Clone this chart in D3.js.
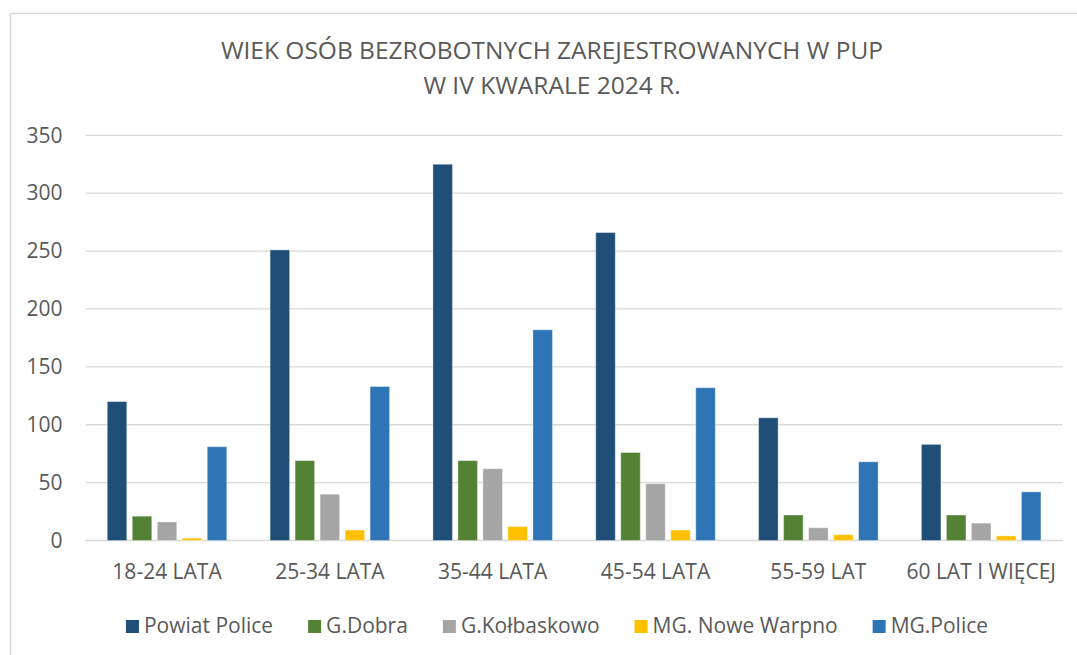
<!DOCTYPE html>
<html>
<head>
<meta charset="utf-8">
<script src="https://cdn.jsdelivr.net/npm/d3@7"></script>
<style>
  body { margin: 0; background: #fff; }
  text { font-family: "Open Sans", sans-serif; fill: #595959; }
</style>
</head>
<body>
<script>
// categories and series
const categories = ["18-24 LATA", "25-34 LATA", "35-44 LATA", "45-54 LATA", "55-59 LAT", "60 LAT I WIĘCEJ"];
const seriesNames = ["Powiat Police", "G.Dobra", "G.Kołbaskowo", "MG. Nowe Warpno", "MG.Police"];
const powiatPolice = [120, 251, 325, 266, 106, 83];
const gDobra = [21, 69, 69, 76, 22, 22];
const gKolbaskowo = [16, 40, 62, 49, 11, 15];
const mgNoweWarpno = [2, 9, 12, 9, 5, 4];
const mgPolice = [81, 133, 182, 132, 68, 42];
const yTicks = [0, 50, 100, 150, 200, 250, 300, 350];
const colors = ["#1f4e79", "#548235", "#a5a5a5", "#ffc000", "#2e75b6"];

const seriesValues = [powiatPolice, gDobra, gKolbaskowo, mgNoweWarpno, mgPolice];

const width = 1077, height = 655;
const plot = {left: 85.6, right: 1062.6, top: 135.3, bottom: 540.5};

const svg = d3.select("body").append("svg")
    .attr("width", width)
    .attr("height", height);

// chart frame (right and bottom edges are cut off in the picture)
svg.append("rect")
    .attr("x", 10.5).attr("y", 13.5)
    .attr("width", width + 20).attr("height", height + 20)
    .attr("fill", "#fff")
    .attr("stroke", "#d9d9d9")
    .attr("stroke-width", 1.5);

// title
const title = svg.append("text")
    .attr("text-anchor", "middle")
    .attr("font-size", 24.5);
title.append("tspan").attr("x", 552).attr("y", 59).text("WIEK OSÓB BEZROBOTNYCH ZAREJESTROWANYCH W PUP");
title.append("tspan").attr("x", 552).attr("y", 94).text("W IV KWARALE 2024 R.");

const y = d3.scaleLinear().domain([0, 350]).range([plot.bottom, plot.top]);
const x0 = d3.scaleBand().domain(categories).range([plot.left, plot.right]);
const groupW = 119.5;
const x1 = d3.scaleBand().domain(seriesNames).range([0, groupW]).paddingInner(0.22);

// gridlines
svg.append("g")
    .selectAll("line")
    .data(yTicks)
    .join("line")
        .attr("x1", plot.left)
        .attr("x2", plot.right)
        .attr("y1", d => y(d))
        .attr("y2", d => y(d))
        .attr("stroke", "#d9d9d9")
        .attr("stroke-width", 1.3);

// y axis labels
const yAxis = svg.append("g")
    .attr("transform", `translate(${plot.left - 10},0)`)
    .call(d3.axisLeft(y).tickValues(yTicks).tickSize(0).tickPadding(13));
yAxis.select(".domain").remove();
yAxis.selectAll("text")
    .attr("font-size", 21)
    .attr("fill", "#595959")
    .style("font-family", "'Open Sans', sans-serif");

// bars
const rows = categories.map((c, i) => ({
    cat: c,
    vals: seriesNames.map((s, j) => ({series: s, value: seriesValues[j][i], color: colors[j]}))
}));

const groups = svg.append("g")
    .selectAll("g")
    .data(rows)
    .join("g")
        .attr("transform", d => `translate(${x0(d.cat) + (x0.bandwidth() - groupW) / 2},0)`);

groups.selectAll("rect")
    .data(d => d.vals)
    .join("rect")
        .attr("x", d => x1(d.series))
        .attr("y", d => y(d.value))
        .attr("width", x1.bandwidth())
        .attr("height", d => y(0) - y(d.value))
        .attr("fill", d => d.color)
        .attr("stroke", "#ffffff")
        .attr("stroke-opacity", 0.35)
        .attr("stroke-width", 1);

// category labels
const xAxis = svg.append("g")
    .attr("transform", `translate(0,${plot.bottom})`)
    .call(d3.axisBottom(x0).tickSize(0).tickPadding(24));
xAxis.select(".domain").remove();
xAxis.selectAll("text")
    .attr("font-size", 21)
    .attr("fill", "#595959")
    .style("font-family", "'Open Sans', sans-serif");

// legend
const legend = svg.append("g").attr("transform", "translate(0,626)");
const items = legend.selectAll("g")
    .data(seriesNames)
    .join("g");
items.append("rect")
    .attr("y", -6)
    .attr("width", 13)
    .attr("height", 13)
    .attr("fill", (d, i) => colors[i]);
items.append("text")
    .attr("x", 18)
    .attr("dy", "0.35em")
    .attr("font-size", 21)
    .text(d => d);

let cx = 0;
items.each(function() {
    d3.select(this).attr("transform", `translate(${cx},0)`);
    cx += 18 + this.querySelector("text").getComputedTextLength() + 35;
});
const legendW = cx - 35;
legend.attr("transform", `translate(${557 - legendW / 2},626)`);
</script>
</body>
</html>
